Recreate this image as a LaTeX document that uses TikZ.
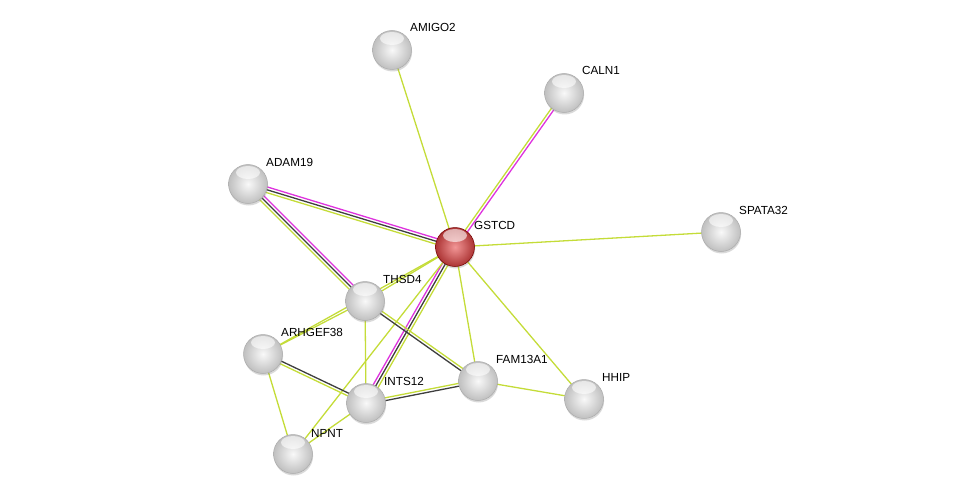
\documentclass[tikz,border=0pt]{standalone}
\usepackage{fontspec}
\setmainfont{Liberation Sans}
\usetikzlibrary{calc,shadows}
\pgfdeclarelayer{background}
\pgfsetlayers{background,main}
\definecolor{tmc}{RGB}{196,220,56}
\definecolor{exc}{RGB}{222,50,222}
\definecolor{coc}{RGB}{62,62,62}
\newcommand\edgeL[4]{\draw[#4] ($(#1)!#3!90:(#2)$) -- ($(#2)!#3!-90:(#1)$);}
\begin{document}
\begin{tikzpicture}[x=1pt,y=-1pt,
  tm/.style={draw=tmc,line width=1.3pt},
  ex/.style={draw=exc,line width=1.3pt},
  co/.style={draw=coc,line width=1.3pt},
  prot/.style={circle,minimum size=39pt,inner sep=0pt,draw=gray!65,line width=0.5pt,
    shading=radial,inner color=gray!5,outer color=gray!50,
    drop shadow={opacity=0.3,shadow xshift=0.6pt,shadow yshift=-2pt},
    path picture={\fill[white,opacity=0.6] ([yshift=-8pt]path picture bounding box.north) ellipse (12pt and 6.5pt);}},
  qprot/.style={prot,draw=red!45!black,inner color={rgb,255:red,242;green,150;blue,150},outer color={rgb,255:red,172;green,52;blue,52}},
  lab/.style={anchor=base west,font=\fontsize{11.7}{14}\selectfont,inner sep=0pt,text=black}]
\useasboundingbox (0,0) rectangle (976,500);
% proteins
\node[prot]  (amigo) at (392,50) {};
\node[prot]  (caln)  at (564,93) {};
\node[prot]  (adam)  at (248,184) {};
\node[qprot] (gstcd) at (455,247) {};
\node[prot]  (spata) at (721,232) {};
\node[prot]  (thsd)  at (365,301) {};
\node[prot]  (arhg)  at (263,354) {};
\node[prot]  (fam)   at (478,381) {};
\node[prot]  (hhip)  at (584,399) {};
\node[prot]  (ints)  at (366,403) {};
\node[prot]  (npnt)  at (293,454) {};
% labels
\node[lab] (lamigo) at (410,32)  {AMIGO2};
\node[lab] (lcaln)  at (582,75)  {CALN1};
\node[lab] (ladam)  at (266,166) {ADAM19};
\node[lab] (lgstcd) at (474,229) {GSTCD};
\node[lab] (lspata) at (739,214) {SPATA32};
\node[lab] (lthsd)  at (383,283) {THSD4};
\node[lab] (larhg)  at (281,336) {ARHGEF38};
\node[lab] (lfam)   at (496,363) {FAM13A1};
\node[lab] (lhhip)  at (602,381) {HHIP};
\node[lab] (lints)  at (384,385) {INTS12};
\node[lab] (lnpnt)  at (311,437) {NPNT};
% edges
\begin{pgfonlayer}{background}
\edgeL{amigo}{gstcd}{0pt}{tm}
\edgeL{caln}{gstcd}{-1.4pt}{tm}
\edgeL{caln}{gstcd}{1.4pt}{ex}
\edgeL{adam}{gstcd}{2.8pt}{ex}
\edgeL{adam}{gstcd}{0pt}{co}
\edgeL{adam}{gstcd}{-2.8pt}{tm}
\edgeL{adam}{thsd}{2.8pt}{ex}
\edgeL{adam}{thsd}{0pt}{co}
\edgeL{adam}{thsd}{-2.8pt}{tm}
\edgeL{gstcd}{spata}{0pt}{tm}
\edgeL{gstcd}{thsd}{0pt}{tm}
\edgeL{gstcd}{arhg}{0pt}{tm}
\edgeL{gstcd}{ints}{-2.8pt}{ex}
\edgeL{gstcd}{ints}{0pt}{co}
\edgeL{gstcd}{ints}{2.8pt}{tm}
\edgeL{gstcd}{npnt}{0pt}{tm}
\edgeL{gstcd}{fam}{0pt}{tm}
\edgeL{gstcd}{hhip}{0pt}{tm}
\edgeL{arhg}{thsd}{0pt}{tm}
\edgeL{thsd}{ints}{0pt}{tm}
\edgeL{thsd}{fam}{-1.4pt}{co}
\edgeL{thsd}{fam}{1.4pt}{tm}
\edgeL{arhg}{ints}{1.4pt}{co}
\edgeL{arhg}{ints}{-1.4pt}{tm}
\edgeL{arhg}{npnt}{0pt}{tm}
\edgeL{ints}{npnt}{0pt}{tm}
\edgeL{ints}{fam}{1.4pt}{tm}
\edgeL{ints}{fam}{-1.4pt}{co}
\edgeL{fam}{hhip}{0pt}{tm}
\end{pgfonlayer}
\end{tikzpicture}
\end{document}
